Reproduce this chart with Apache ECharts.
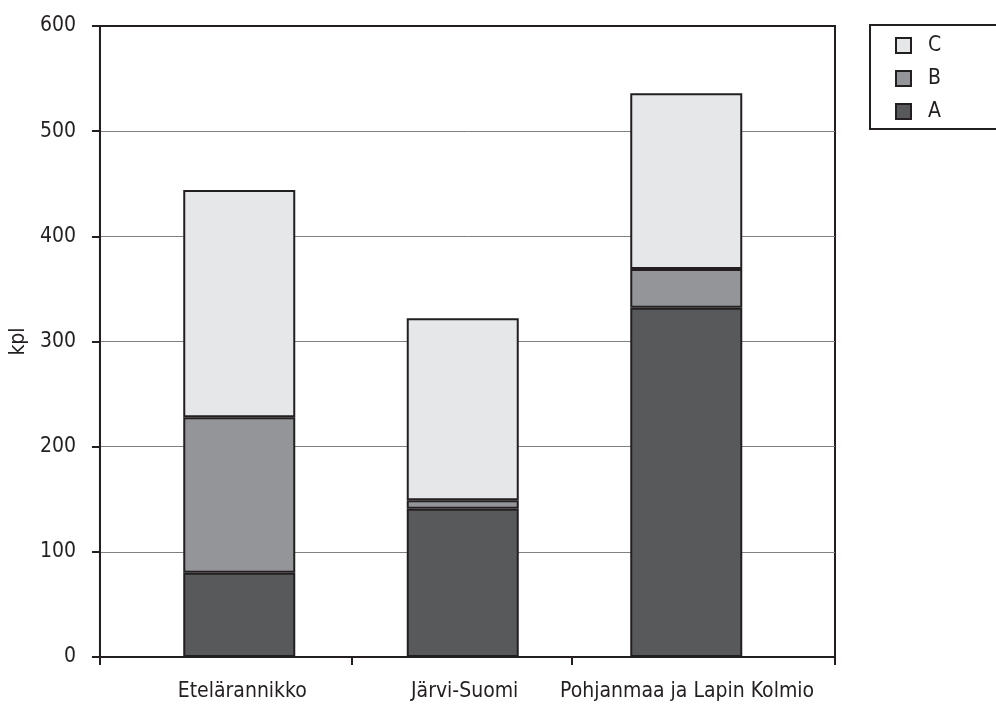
<!DOCTYPE html>
<html>
<head>
<meta charset="utf-8">
<style>
  html, body { margin: 0; padding: 0; background: #fff; }
  #chart { width: 996px; height: 711px; }
</style>
<script src="https://cdn.jsdelivr.net/npm/echarts@6/dist/echarts.min.js"></script>
</head>
<body>
<div id="chart"></div>
<script>
// Regions along the horizontal axis
const categories = ['Etelärannikko', 'Järvi-Suomi', 'Pohjanmaa ja Lapin Kolmio'];
// Stacked components (kpl)
const seriesA = [80, 141, 332];
const seriesB = [148, 8, 37];
const seriesC = [216, 173, 167];
// Vertical axis ticks
const yTicks = [0, 100, 200, 300, 400, 500, 600];

const FONT = '"Liberation Sans Narrow", "DejaVu Sans Condensed", sans-serif';
const INK = '#231f20';

// Frame axis extent in category units: category i sits at x = i
const xMin = -0.64, xMax = 2.665;

const chart = echarts.init(document.getElementById('chart'), null, { renderer: 'canvas' });

const barBase = {
  type: 'bar',
  stack: 'total',
  xAxisIndex: 1,
  yAxisIndex: 1,
  barWidth: 112,
  emphasis: { disabled: true }
};
const edge = { borderColor: INK, borderWidth: 2 };

chart.setOption({
  animation: false,
  backgroundColor: '#ffffff',
  grid: [
    // plot frame with axes, ticks and gridlines
    { left: 97, right: 161, top: 26, bottom: 54,
      show: true, borderColor: INK, borderWidth: 2, backgroundColor: 'transparent' },
    // band layout for the stacked bars
    { left: 127.5, right: 198, top: 26, bottom: 54 }
  ],
  legend: {
    data: ['C', 'B', 'A'],
    orient: 'vertical',
    left: 870, top: 25,
    padding: [10, 80, 7, 25],
    itemGap: 12,
    itemWidth: 15, itemHeight: 15,
    icon: 'rect',
    borderColor: INK, borderWidth: 2,
    textStyle: { fontFamily: FONT, fontSize: 21, color: INK, padding: [0, 0, 0, 12] }
  },
  xAxis: [
    {
      gridIndex: 0,
      type: 'value',
      min: xMin, max: xMax,
      splitLine: { show: false },
      axisLine: { show: true, onZero: false, lineStyle: { color: INK, width: 2 } },
      axisTick: {
        show: true, inside: false, length: 8,
        customValues: [xMin, 0.49, 1.48, xMax],
        lineStyle: { color: INK, width: 2 }
      },
      axisLabel: {
        customValues: categories.map((c, i) => i),
        formatter: v => categories[Math.round(v)] || '',
        margin: 24,
        fontFamily: FONT, fontSize: 21, color: INK
      }
    },
    {
      gridIndex: 1,
      type: 'category',
      data: categories,
      show: false
    }
  ],
  yAxis: [
    {
      gridIndex: 0,
      type: 'value',
      min: 0, max: 600, interval: 100,
      name: 'kpl',
      nameLocation: 'middle',
      nameRotate: 90,
      nameGap: 61,
      nameTextStyle: { fontFamily: FONT, fontSize: 21, color: INK },
      axisLine: { show: true, onZero: false, lineStyle: { color: INK, width: 2 } },
      axisTick: { show: true, inside: false, length: 8, lineStyle: { color: INK, width: 2 } },
      axisLabel: {
        margin: 24,
        fontFamily: FONT, fontSize: 21, color: INK,
        formatter: v => yTicks.includes(v) ? String(v) : ''
      },
      splitLine: { show: true, showMaxLine: false, showMinLine: false, lineStyle: { color: '#808080', width: 1 } }
    },
    {
      gridIndex: 1,
      type: 'value',
      min: 0, max: 600,
      show: false,
      splitLine: { show: false }
    }
  ],
  series: [
    Object.assign({}, barBase, { name: 'A', data: seriesA, itemStyle: Object.assign({ color: '#58595b' }, edge) }),
    Object.assign({}, barBase, { name: 'B', data: seriesB, itemStyle: Object.assign({ color: '#939598' }, edge) }),
    Object.assign({}, barBase, { name: 'C', data: seriesC, itemStyle: Object.assign({ color: '#e6e7e8' }, edge) })
  ]
});
</script>
</body>
</html>
